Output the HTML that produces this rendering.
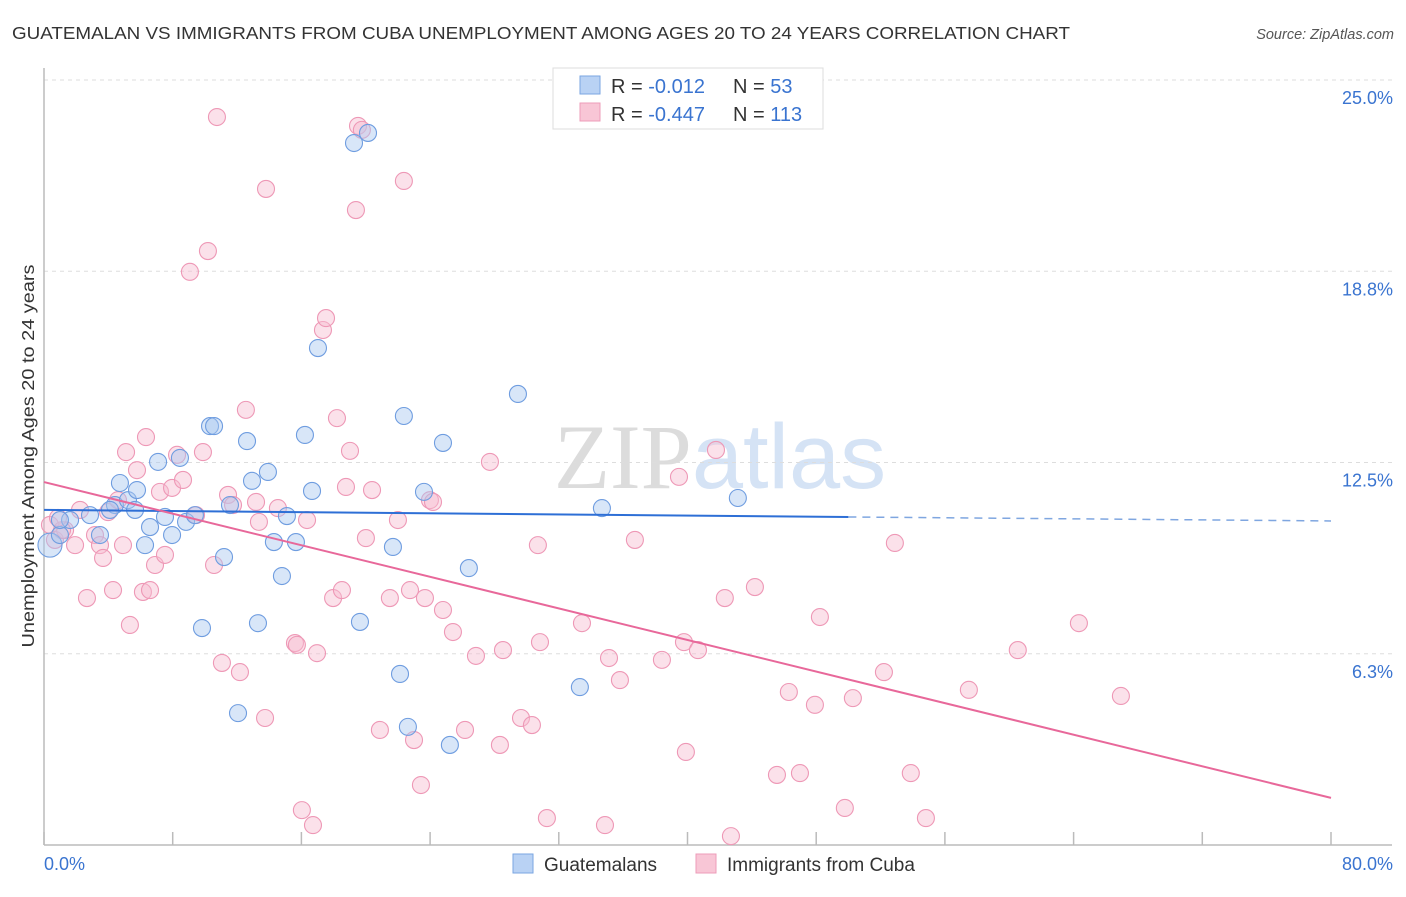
<!DOCTYPE html>
<html><head><meta charset="utf-8"><style>
body{margin:0;background:#fff;font-family:"Liberation Sans",sans-serif}
svg text{font-family:"Liberation Sans",sans-serif}
</style></head><body>
<svg width="1406" height="892" xmlns="http://www.w3.org/2000/svg">
<text x="12" y="39" font-size="17.5" fill="#333" textLength="1058" lengthAdjust="spacingAndGlyphs">GUATEMALAN VS IMMIGRANTS FROM CUBA UNEMPLOYMENT AMONG AGES 20 TO 24 YEARS CORRELATION CHART</text>
<text x="1394" y="39" font-size="14.5" fill="#555" font-style="italic" text-anchor="end">Source: ZipAtlas.com</text>
<text x="720" y="488" font-size="92" text-anchor="middle" fill="#e4e4e4"><tspan font-family="Liberation Serif" fill="#dcdcdc">ZIP</tspan><tspan fill="#d5e3f5">atlas</tspan></text>
<g id="grid"></g>
<g id="axes"></g>
<g id="pink"></g>
<g id="blue"></g>
<g id="trends"></g>
<text transform="translate(34,456) rotate(-90)" font-size="17.5" fill="#333" text-anchor="middle" textLength="383" lengthAdjust="spacingAndGlyphs">Unemployment Among Ages 20 to 24 years</text>
<text x="44" y="870" font-size="18" fill="#3a74d0">0.0%</text>
<text x="1393" y="870" font-size="18" fill="#3a74d0" text-anchor="end">80.0%</text>
<g>
<rect x="553" y="68" width="270" height="61" fill="#fff" stroke="#ddd"/>
<rect x="580" y="76" width="20" height="18" fill="#b9d2f4" stroke="#7aa6e2"/>
<rect x="580" y="103" width="20" height="18" fill="#f8c6d6" stroke="#ee9cb9"/>
<text x="611" y="93" font-size="20" fill="#333">R = <tspan fill="#3a74d0">-0.012</tspan></text>
<text x="733" y="93" font-size="20" fill="#333">N = <tspan fill="#3a74d0"> 53</tspan></text>
<text x="611" y="121" font-size="20" fill="#333">R = <tspan fill="#3a74d0">-0.447</tspan></text>
<text x="733" y="121" font-size="20" fill="#333">N = <tspan fill="#3a74d0">113</tspan></text>
</g>
<g>
<rect x="513" y="854" width="20" height="19" fill="#b9d2f4" stroke="#7aa6e2"/>
<text x="544" y="871" font-size="19" fill="#333">Guatemalans</text>
<rect x="696" y="854" width="20" height="19" fill="#f8c6d6" stroke="#ee9cb9"/>
<text x="727" y="871" font-size="19" fill="#333">Immigrants from Cuba</text>
</g>
</svg>
<script>
const yTicks=[6.25,12.5,18.75,25];
const yTickLabels=["6.3%","12.5%","18.8%","25.0%"];
const xTicks=[0,8,16,24,32,40,48,56,64,72,80];
const blueX=[0.37,1.62,0.99,2.86,3.48,4.41,4.72,5.22,5.78,5.66,6.28,6.59,7.09,7.52,7.96,8.45,8.83,9.38,10.32,10.57,11.19,11.56,12.62,12.93,13.92,14.29,14.79,15.10,15.66,16.22,16.66,17.03,19.27,20.14,19.64,13.30,9.82,12.06,21.69,22.13,22.37,22.62,23.62,24.80,25.23,26.41,29.46,33.31,34.68,43.13,4.10,0.99];
const blueY=[9.80,10.62,10.13,10.78,10.13,11.11,11.83,11.27,11.60,10.95,9.80,10.39,12.52,10.72,10.13,12.65,10.56,10.78,13.69,13.69,9.41,11.11,13.20,11.90,12.19,9.90,8.79,10.75,9.90,13.40,11.57,16.24,22.94,23.27,7.29,7.25,7.09,4.31,9.74,5.59,14.02,3.86,11.54,13.14,3.27,9.05,14.74,5.16,11.01,11.34,10.95,10.62];
const pinkX=[0.37,0.68,1.31,1.93,2.24,2.67,3.17,3.48,3.67,3.98,4.29,4.60,4.91,5.10,5.34,5.78,6.15,6.34,6.59,6.90,7.21,7.52,7.96,8.27,8.64,9.07,9.45,9.88,10.19,10.57,10.75,11.06,11.44,11.75,12.18,12.55,13.18,13.36,13.74,13.80,14.54,15.60,15.72,16.03,16.35,16.72,16.97,17.34,17.53,17.97,18.21,18.52,18.77,19.02,19.39,19.52,19.76,20.01,20.39,20.88,21.50,22.00,22.37,22.75,23.00,23.43,23.68,23.99,24.18,24.80,25.42,26.17,26.85,27.72,28.34,28.53,29.65,30.33,30.70,30.83,31.26,33.44,34.87,35.12,35.80,36.73,38.41,39.47,39.78,39.90,40.65,41.77,42.32,42.70,44.19,45.56,46.30,46.99,47.92,48.23,49.78,50.28,52.21,52.89,53.88,54.82,57.49,60.53,64.33,66.94,1.12,0.87];
const pinkY=[10.46,9.97,10.29,9.80,10.95,8.07,10.13,9.80,9.38,10.88,8.33,11.27,9.80,12.84,7.19,12.25,8.27,13.33,8.33,9.15,11.54,9.48,11.67,12.75,11.93,18.73,10.78,12.84,19.41,9.15,23.79,5.95,11.44,11.11,5.65,14.22,11.21,10.56,4.15,21.44,11.01,6.60,6.54,1.14,10.62,0.65,6.27,16.83,17.22,8.07,13.95,8.33,11.70,12.88,20.75,23.50,23.37,10.03,11.60,3.76,8.07,10.62,21.70,8.33,3.43,1.96,8.07,11.27,11.21,7.68,6.96,3.76,6.18,12.52,3.27,6.37,4.15,3.92,9.80,6.63,0.88,7.25,0.65,6.11,5.39,9.97,6.05,12.03,6.63,3.04,6.37,12.91,8.07,0.29,8.43,2.29,5.00,2.35,4.58,7.45,1.21,4.80,5.65,9.87,2.35,0.88,5.07,6.37,7.25,4.87,10.29,10.69];
const blueTrend=[[0,10.95],[50,10.72],[80,10.59]];
const pinkTrend=[[0,11.86],[80,1.54]];
const NS="http://www.w3.org/2000/svg";
const X=v=>44+v*16.0875, Y=v=>845-v*30.6;
function mk(tag,attrs,parent){const e=document.createElementNS(NS,tag);for(const k in attrs)e.setAttribute(k,attrs[k]);parent.appendChild(e);return e;}
const grid=document.getElementById('grid'),axes=document.getElementById('axes');
yTicks.forEach((t,i)=>{
  const l=mk('line',{x1:44,x2:1392,y1:Y(t),y2:Y(t),stroke:'#ddd','stroke-dasharray':'4,4'},grid);
  
  
  const tx=mk('text',{x:1393,y:Y(t)+24,'font-size':18,fill:'#3a74d0','text-anchor':'end'},grid);
  tx.textContent=yTickLabels[i];
  
  
});
mk('line',{x1:44,x2:44,y1:68,y2:845,stroke:'#bbb','stroke-width':1.5},axes);
mk('line',{x1:44,x2:1392,y1:845,y2:845,stroke:'#bbb','stroke-width':1.5},axes);
xTicks.forEach(t=>{const l=mk('line',{x1:X(t),x2:X(t),y1:832,y2:845,stroke:'#bbb','stroke-width':1.5},axes);
  
  });
function pts(xs,ys,g,fill,stroke,name){xs.forEach((x,i)=>{const c=mk('circle',{cx:X(x),cy:Y(ys[i]),r:(i===0&&name==='guatemalan-point')?12:8.5,fill:fill,'fill-opacity':0.45,stroke:stroke,'stroke-width':1.1},g);
  
  });}
pts(pinkX,pinkY,document.getElementById('pink'),'#f7bcd0','#ee98b6','cuba-point');
pts(blueX,blueY,document.getElementById('blue'),'#a9c8f0','#6f9de0','guatemalan-point');
const tr=document.getElementById('trends');
const b1=mk('line',{x1:X(blueTrend[0][0]),y1:Y(blueTrend[0][1]),x2:X(blueTrend[1][0]),y2:Y(blueTrend[1][1]),stroke:'#2e6fd6','stroke-width':2},tr);


const b2=mk('line',{x1:X(blueTrend[1][0]),y1:Y(blueTrend[1][1]),x2:X(blueTrend[2][0]),y2:Y(blueTrend[2][1]),stroke:'#7fa6e0','stroke-width':1.5,'stroke-dasharray':'8,6'},tr);


const p1=mk('line',{x1:X(pinkTrend[0][0]),y1:Y(pinkTrend[0][1]),x2:X(pinkTrend[1][0]),y2:Y(pinkTrend[1][1]),stroke:'#e8689a','stroke-width':2},tr);


</script>
</body></html>
